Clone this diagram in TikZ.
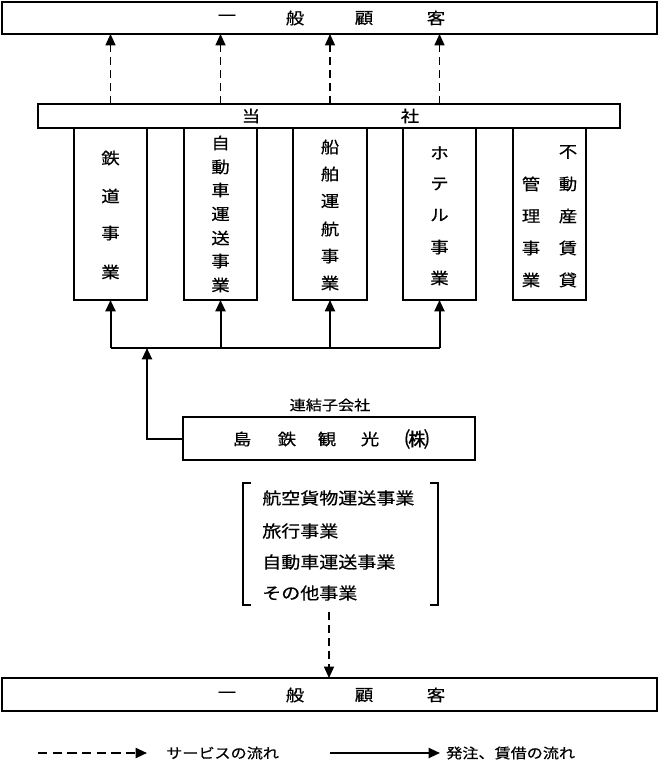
\documentclass[tikz,border=0pt]{standalone}
\usepackage{fontspec}
\setmainfont[FakeStretch=1.15,FakeBold=0.5]{Noto Sans CJK JP}
\usetikzlibrary{arrows.meta,fit}
\begin{document}
\begin{tikzpicture}[x=0.75pt,y=-0.75pt,
  box/.style={draw,line width=1.5pt,inner sep=0pt,outer sep=0pt},
  ch/.style={font=\fontsize{12}{14}\selectfont,inner sep=0pt},
  sm/.style={font=\fontsize{10.5}{13}\selectfont,inner sep=0pt},
  lst/.style={font=\fontsize{12.4}{15}\selectfont,inner sep=0pt,anchor=west},
  tip/.style={-{Triangle[width=7.5pt,length=8.5pt]}},
  svc/.style={tip,line width=1pt,dash pattern=on 6pt off 3.75pt},
  ord/.style={tip,line width=1.5pt},
  brk/.style={line width=1pt}
]
\useasboundingbox (0,0) rectangle (660,764);
\fill[white] (0,0) rectangle (660,764);

% boxes
\node[box,fit={(2,2) (657,34)}] (top) {};
\node[box,fit={(38,104) (620,128)}] (tosha) {};
\node[box,fit={(74,128) (147,300)}] (b1) {};
\node[box,fit={(184,128) (257,300)}] (b2) {};
\node[box,fit={(293,128) (367,300)}] (b3) {};
\node[box,fit={(403,128) (476,300)}] (b4) {};
\node[box,fit={(513,128) (586,300)}] (b5) {};
\node[box,fit={(183,417) (475,460)}] (shima) {};
\node[box,fit={(2,678) (657,711)}] (bot) {};

% texts
\foreach \c/\x in {一/227,般/295,顧/364,客/436} \node[ch] at (\x,18) {\c};
\foreach \c/\x in {当/251,社/410} \node[ch] at (\x,116) {\c};
\foreach \c/\y in {鉄/158,道/196,事/233,業/272} \node[ch] at (110.5,\y) {\c};
\foreach \c/\y in {自/143,動/167,車/190,運/214,送/238,事/261,業/285} \node[ch] at (220.5,\y) {\c};
\foreach \c/\y in {船/147,舶/174,運/201,航/229,事/256,業/283} \node[ch] at (330,\y) {\c};
\foreach \c/\y in {ホ/153,テ/184,ル/215,事/247,業/278} \node[ch] at (439.5,\y) {\c};
\foreach \c/\y in {不/152,動/184,産/216,賃/248,貸/280} \node[ch] at (568,\y) {\c};
\foreach \c/\y in {管/184,理/216,事/248,業/280} \node[ch] at (531,\y) {\c};
\node[sm] (ren) at (330,405) {連結子会社};
\foreach \c/\x in {島/242,鉄/287,観/327,光/370} \node[ch] at (\x,439) {\c};
\node[inner sep=0pt,font=\fontsize{16}{18}\selectfont] (kabu) at (417,439) {㈱};
\foreach \c/\x in {一/227,般/295,顧/364,客/436} \node[ch] at (\x,695) {\c};

% list with brackets
\node[lst] (l1) at (262,498) {航空貨物運送事業};
\node[lst] (l2) at (262,531) {旅行事業};
\node[lst] (l3) at (262,562) {自動車運送事業};
\node[lst] (l4) at (262,593) {その他事業};
\draw[brk] (251,483) -- (243,483) -- (243,605) -- (251,605);
\draw[brk] (430,483) -- (438,483) -- (438,605) -- (430,605);
\coordinate (ls) at (329,612);

% service flows
\foreach \b in {b1,b2,b3,b4} \draw[svc] (tosha.north -| \b) -- (top.south -| \b);
\draw[svc] (ls) -- (bot.north -| ls);

% order flows
\coordinate (bus) at (147,348);
\draw[line width=1.5pt] (b1.south |- bus) -- (b4.south |- bus);
\foreach \b in {b1,b2,b3,b4} \draw[ord] (\b.south |- bus) -- (\b.south);
\draw[ord] (shima.west) -| (bus);

% legend
\coordinate (la) at (38,753);
\coordinate (lb) at (147,753);
\coordinate (lc) at (330,753);
\coordinate (ld) at (440,753);
\draw[tip,line width=1.5pt,dash pattern=on 7pt off 4pt] (la) -- (lb);
\node[sm,anchor=west] (lt1) at (166,753) {サービスの流れ};
\draw[ord] (lc) -- (ld);
\node[sm,anchor=west] (lt2) at (446,753) {発注、賃借の流れ};
\end{tikzpicture}
\end{document}
